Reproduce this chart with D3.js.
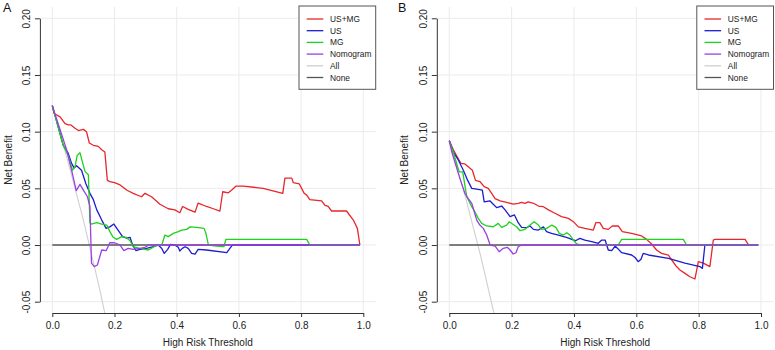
<!DOCTYPE html>
<html>
<head>
<meta charset="utf-8">
<script src="https://cdn.jsdelivr.net/npm/d3@7"></script>
<style>
  html, body { margin: 0; padding: 0; background: #fff; }
  svg { display: block; font-family: "Liberation Sans", Arial, Helvetica, sans-serif; }
</style>
</head>
<body>
<svg id="chart" width="775" height="350"></svg>
<script>
// ---------- DATA ----------
const xTicks = [0, 0.2, 0.4, 0.6, 0.8, 1.0];
const yTicks = [-0.05, 0, 0.05, 0.10, 0.15, 0.20];
const xTickLabels = ["0.0", "0.2", "0.4", "0.6", "0.8", "1.0"];
const yTickLabels = ["-0.05", "0.00", "0.05", "0.10", "0.15", "0.20"];
const seriesNames = ["US+MG", "US", "MG", "Nomogram", "All", "None"];
const seriesColors = ["#e8262b", "#1c1cd0", "#1ed21e", "#9c3fe0", "#cfcfcf", "#555555"];
const panelLabels = ["A", "B"];
const xTitle = "High Risk Threshold";
const yTitle = "Net Benefit";

// Panel A
const aUSMG = [[0,0.123],[0.006,0.116],[0.025,0.113],[0.041,0.107],[0.051,0.106],[0.059,0.106],[0.073,0.103],[0.084,0.101],[0.10,0.102],[0.11,0.100],[0.119,0.090],[0.132,0.088],[0.148,0.087],[0.159,0.084],[0.169,0.082],[0.177,0.057],[0.185,0.056],[0.20,0.055],[0.218,0.053],[0.239,0.0485],[0.26,0.0456],[0.287,0.0426],[0.298,0.0456],[0.319,0.0426],[0.33,0.040],[0.346,0.036],[0.373,0.032],[0.394,0.031],[0.41,0.0285],[0.419,0.034],[0.437,0.0315],[0.459,0.029],[0.469,0.037],[0.496,0.034],[0.518,0.032],[0.539,0.030],[0.548,0.047],[0.566,0.046],[0.577,0.0485],[0.591,0.052],[0.614,0.052],[0.678,0.050],[0.741,0.0456],[0.748,0.059],[0.77,0.059],[0.775,0.055],[0.794,0.054],[0.81,0.0456],[0.818,0.044],[0.828,0.040],[0.866,0.039],[0.877,0.035],[0.887,0.034],[0.898,0.030],[0.946,0.030],[0.968,0.022],[0.981,0.0147],[0.989,0.0]];
const aUS = [[0,0.123],[0.019,0.104],[0.035,0.088],[0.051,0.081],[0.062,0.072],[0.07,0.068],[0.078,0.070],[0.094,0.066],[0.108,0.054],[0.121,0.0456],[0.132,0.040],[0.143,0.031],[0.159,0.022],[0.173,0.0147],[0.185,0.016],[0.198,0.0185],[0.212,0.013],[0.226,0.0074],[0.239,0.006],[0.25,0.0068],[0.258,0.0],[0.269,-0.005],[0.282,-0.0038],[0.303,-0.003],[0.325,-0.0015],[0.341,0.0],[0.352,-0.003],[0.36,-0.0074],[0.371,-0.0038],[0.38,0.0006],[0.394,0.0],[0.405,-0.002],[0.41,-0.0053],[0.418,-0.003],[0.427,-0.0015],[0.437,-0.003],[0.448,-0.0074],[0.459,-0.008],[0.469,-0.0038],[0.496,-0.0044],[0.561,-0.0068],[0.571,-0.003],[0.579,0.0],[0.989,0.0]];
const aMG = [[0,0.123],[0.019,0.104],[0.035,0.088],[0.051,0.079],[0.065,0.066],[0.073,0.069],[0.08,0.079],[0.089,0.0815],[0.098,0.072],[0.105,0.065],[0.116,0.062],[0.121,0.0197],[0.126,0.0185],[0.143,0.0197],[0.159,0.0185],[0.175,0.0176],[0.185,0.0118],[0.196,0.0068],[0.207,0.005],[0.223,0.0074],[0.237,0.0068],[0.25,0.0038],[0.26,-0.0015],[0.282,-0.003],[0.309,-0.0044],[0.325,-0.002],[0.335,0.0],[0.352,0.0],[0.362,0.0088],[0.373,0.0074],[0.389,0.0103],[0.405,0.0118],[0.416,0.0132],[0.432,0.0138],[0.443,0.016],[0.464,0.0156],[0.488,0.0147],[0.494,0.0103],[0.502,0.0],[0.528,-0.001],[0.552,-0.0015],[0.558,0.005],[0.818,0.005],[0.828,0.0],[0.989,0.0]];
const aNomogram = [[0,0.123],[0.046,0.084],[0.062,0.066],[0.077,0.048],[0.089,0.0535],[0.1,0.0485],[0.113,0.0426],[0.121,0.034],[0.126,-0.016],[0.135,-0.019],[0.145,-0.0176],[0.151,-0.0118],[0.159,-0.0044],[0.173,-0.005],[0.185,0.002],[0.2,0.002],[0.218,0.0],[0.23,-0.005],[0.244,-0.003],[0.26,-0.0038],[0.282,-0.003],[0.298,-0.002],[0.311,0.0],[0.989,0.0]];
const aAll = [[0,0.123],[0.05,0.074],[0.1,0.022],[0.15,-0.036],[0.2,-0.10]];
const aNone = [[0,0],[0.989,0]];

// Panel B
const bUSMG = [[0,0.092],[0.013,0.084],[0.024,0.0785],[0.037,0.072],[0.05,0.0715],[0.061,0.069],[0.074,0.066],[0.084,0.057],[0.098,0.056],[0.112,0.0515],[0.125,0.050],[0.136,0.0456],[0.147,0.041],[0.163,0.039],[0.184,0.0376],[0.205,0.036],[0.221,0.0368],[0.232,0.0376],[0.243,0.0368],[0.253,0.038],[0.27,0.0368],[0.286,0.0344],[0.302,0.0338],[0.318,0.031],[0.339,0.028],[0.36,0.025],[0.382,0.0235],[0.398,0.0206],[0.414,0.016],[0.435,0.0147],[0.462,0.0132],[0.47,0.0197],[0.483,0.0197],[0.494,0.0147],[0.51,0.0138],[0.523,0.0168],[0.542,0.0168],[0.555,0.0118],[0.585,0.0103],[0.617,0.008],[0.633,0.005],[0.649,0.0009],[0.665,-0.0044],[0.681,-0.0074],[0.703,-0.009],[0.713,-0.013],[0.729,-0.019],[0.74,-0.022],[0.756,-0.025],[0.772,-0.028],[0.788,-0.030],[0.799,-0.0147],[0.815,-0.016],[0.836,-0.019],[0.847,0.0044],[0.852,0.005],[0.949,0.005],[0.96,0.0],[0.991,0.0]];
const bUS = [[0,0.092],[0.013,0.082],[0.029,0.075],[0.045,0.066],[0.059,0.057],[0.072,0.050],[0.093,0.049],[0.106,0.0485],[0.112,0.038],[0.13,0.039],[0.141,0.036],[0.152,0.033],[0.168,0.0344],[0.179,0.031],[0.195,0.025],[0.209,0.0265],[0.221,0.0197],[0.232,0.0156],[0.248,0.0153],[0.259,0.0168],[0.27,0.0138],[0.286,0.0132],[0.302,0.016],[0.312,0.0118],[0.328,0.0103],[0.35,0.0088],[0.376,0.0068],[0.393,0.005],[0.405,0.0038],[0.419,0.0059],[0.435,0.0044],[0.457,0.0029],[0.478,0.0015],[0.489,0.0044],[0.5,0.0044],[0.51,-0.0044],[0.521,-0.005],[0.532,-0.0009],[0.54,-0.003],[0.553,-0.0068],[0.585,-0.0088],[0.596,-0.011],[0.606,-0.0147],[0.615,-0.0126],[0.622,-0.0074],[0.639,-0.0088],[0.703,-0.0118],[0.756,-0.016],[0.804,-0.019],[0.812,-0.0206],[0.82,0.0],[0.991,0.0]];
const bMG = [[0,0.092],[0.015,0.080],[0.03,0.066],[0.032,0.0646],[0.043,0.0646],[0.056,0.0426],[0.072,0.0338],[0.082,0.0294],[0.093,0.0235],[0.104,0.0191],[0.12,0.0168],[0.141,0.0161],[0.157,0.0191],[0.168,0.0156],[0.184,0.0176],[0.192,0.0205],[0.216,0.0161],[0.227,0.0126],[0.243,0.0138],[0.259,0.0176],[0.272,0.0205],[0.286,0.0176],[0.296,0.0138],[0.312,0.0147],[0.329,0.0176],[0.342,0.0156],[0.353,0.0103],[0.366,0.0088],[0.377,0.0108],[0.387,0.0088],[0.398,0.0044],[0.409,0.0009],[0.425,0.0],[0.542,0.0],[0.553,0.005],[0.751,0.005],[0.761,0.0],[0.991,0.0]];
const bNomogram = [[0,0.092],[0.008,0.082],[0.034,0.0588],[0.05,0.0456],[0.061,0.041],[0.072,0.0368],[0.088,0.022],[0.098,0.0176],[0.109,0.0147],[0.12,0.0088],[0.131,0.0],[0.147,-0.0009],[0.16,-0.0059],[0.173,-0.0029],[0.186,-0.002],[0.195,-0.0044],[0.205,-0.0079],[0.214,-0.0068],[0.221,-0.0015],[0.232,0.0],[0.991,0.0]];
const bAll = [[0,0.092],[0.05,0.044],[0.1,-0.009],[0.15,-0.068]];
const bNone = [[0,0],[0.991,0]];

const panelSeries = [
  [aUSMG, aUS, aMG, aNomogram, aAll, aNone],
  [bUSMG, bUS, bMG, bNomogram, bAll, bNone]
];

// ---------- LAYOUT ----------
const svg = d3.select("#chart");
const panels = [
  { x0: 52.3, x1: 363.3, yAxisX: 39.9, regionRight: 375.7, yTitleX: 11.5, labelX: 3 },
  { x0: 449.3, x1: 761.0, yAxisX: 436.8, regionRight: 773.5, yTitleX: 407.5, labelX: 398 }
];
const yTop = 18.3, yBottom = 301.7, regionTop = 7.0, regionBottom = 313.0;
const drawOrder = [4, 5, 0, 1, 2, 3];

panels.forEach((p, pi) => {
  const x = d3.scaleLinear().domain([0, 1]).range([p.x0, p.x1]);
  const y = d3.scaleLinear().domain([-0.05, 0.20]).range([yBottom, yTop]);
  const g = svg.append("g");

  // grid
  g.append("g").selectAll("line.v").data(xTicks).join("line")
    .attr("x1", d => x(d)).attr("x2", d => x(d))
    .attr("y1", regionTop).attr("y2", regionBottom)
    .attr("stroke", "#ebebeb").attr("stroke-width", 1);
  g.append("g").selectAll("line.h").data(yTicks).join("line")
    .attr("x1", p.yAxisX).attr("x2", p.regionRight)
    .attr("y1", d => y(d)).attr("y2", d => y(d))
    .attr("stroke", "#ebebeb").attr("stroke-width", 1);

  // clip
  const clipId = "clip" + pi;
  svg.append("clipPath").attr("id", clipId).append("rect")
    .attr("x", p.yAxisX).attr("y", regionTop)
    .attr("width", p.regionRight - p.yAxisX).attr("height", regionBottom - regionTop);

  const line = d3.line().x(d => x(d[0])).y(d => y(d[1]));
  const lines = g.append("g").attr("clip-path", `url(#${clipId})`);
  drawOrder.forEach(si => {
    lines.append("path").datum(panelSeries[pi][si])
      .attr("d", line).attr("fill", "none")
      .attr("stroke", seriesColors[si])
      .attr("stroke-width", si === 4 ? 1.1 : 1.3)
      .attr("stroke-linejoin", "round");
  });

  // x axis
  const xAxis = d3.axisBottom(x).tickValues(xTicks)
    .tickFormat((d, i) => xTickLabels[i])
    .tickSize(4).tickSizeOuter(0).tickPadding(5);
  const xg = g.append("g").attr("transform", `translate(0,${regionBottom})`).call(xAxis);
  xg.select(".domain").attr("stroke", "#333");
  xg.selectAll(".tick line").attr("stroke", "#333");
  xg.selectAll("text").attr("font-size", 10).attr("fill", "#222")
    .attr("font-family", '"Liberation Sans", Arial, sans-serif');

  // y axis
  const yAxis = d3.axisLeft(y).tickValues(yTicks)
    .tickFormat((d, i) => yTickLabels[i])
    .tickSize(5).tickSizeOuter(0);
  const yg = g.append("g").attr("transform", `translate(${p.yAxisX},0)`).call(yAxis);
  yg.select(".domain").attr("stroke", "#333");
  yg.selectAll(".tick line").attr("stroke", "#333");
  yg.selectAll(".tick text")
    .attr("x", null).attr("dy", null)
    .attr("transform", "translate(-10,0) rotate(-90)")
    .attr("text-anchor", "middle")
    .attr("font-size", 10).attr("fill", "#222")
    .attr("font-family", '"Liberation Sans", Arial, sans-serif');

  // titles
  g.append("text").attr("x", (p.x0 + p.x1) / 2).attr("y", 345.5)
    .attr("text-anchor", "middle").attr("font-size", 10).attr("fill", "#222")
    .text(xTitle);
  g.append("text")
    .attr("transform", `translate(${p.yTitleX},${(yTop + yBottom) / 2}) rotate(-90)`)
    .attr("text-anchor", "middle").attr("font-size", 10).attr("fill", "#222")
    .text(yTitle);
  g.append("text").attr("x", p.labelX).attr("y", 11.8)
    .attr("font-size", 12.5).attr("fill", "#111").text(panelLabels[pi]);

  // legend
  const lw = 76.7, lh = 83.3;
  const lx = p.regionRight - lw, ly = 6;
  const leg = g.append("g").attr("transform", `translate(${lx},${ly})`);
  leg.append("rect").attr("x", 0).attr("y", 0).attr("width", lw).attr("height", lh)
    .attr("fill", "#fff").attr("stroke", "#555").attr("stroke-width", 1);
  seriesNames.forEach((name, i) => {
    const ry = 13 + i * 11.7;
    leg.append("line").attr("x1", 7.7).attr("x2", 24.3).attr("y1", ry).attr("y2", ry)
      .attr("stroke", seriesColors[i]).attr("stroke-width", 1.3);
    leg.append("text").attr("x", 31).attr("y", ry + 3).attr("font-size", 8.4)
      .attr("fill", "#222").text(name);
  });
});
</script>
</body>
</html>
